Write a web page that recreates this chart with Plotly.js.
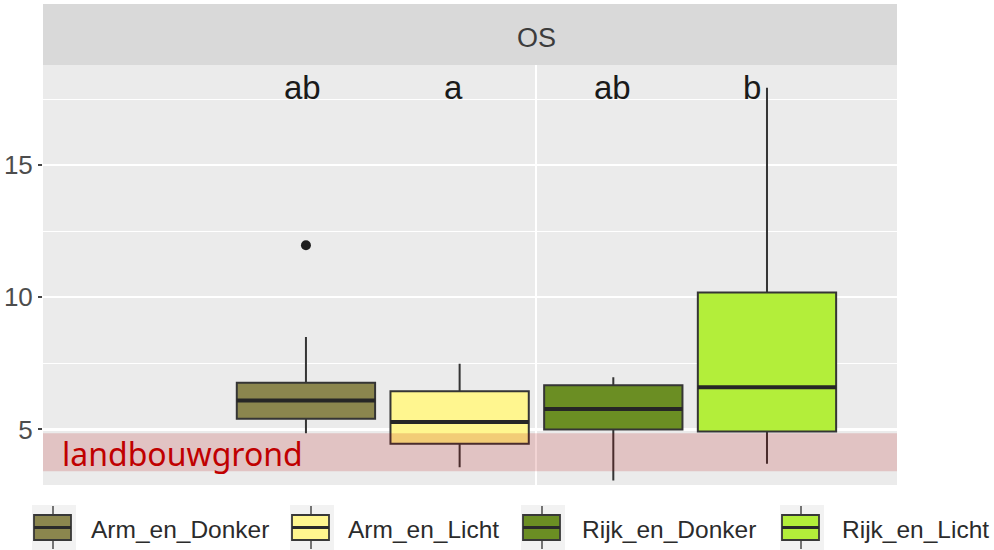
<!DOCTYPE html>
<html>
<head>
<meta charset="utf-8">
<script src="https://cdn.plot.ly/plotly-3.0.1.min.js"></script>
<style>
  html, body { margin: 0; padding: 0; background: #ffffff; }
  #chart { width: 994px; height: 550px; }
</style>
</head>
<body>
<div id="chart"></div>
<script>
// Groups and their box-plot summaries (OS)
const categories = ['Arm_en_Donker', 'Arm_en_Licht', 'Rijk_en_Donker', 'Rijk_en_Licht'];
const positions = [1, 2, 3, 4];
const lowerWhisker = [4.86, 3.57, 3.07, 3.70];
const q1 = [5.41, 4.46, 5.00, 4.92];
const median = [6.10, 5.28, 5.78, 6.60];
const q3 = [6.77, 6.45, 6.67, 10.18];
const upperWhisker = [8.50, 7.49, 6.98, 17.93];

// Points outside the whiskers
const outlierGroup = ['Arm_en_Donker'];
const outlierValue = [11.97];

// Significance letters per group
const letters = ['ab', 'a', 'ab', 'b'];
const letterShift = [-3, -6, -1, -15];

// Reference range for agricultural soil
const bandRange = [3.42, 4.86];
const bandLabel = 'landbouwgrond';

// Axis ticks
const yTicks = [5, 10, 15];
const yMinor = [7.5, 12.5, 17.5];

const fills = ['#8B864E', '#FFF68F', '#6B8E23', '#B3EE3A'];
const sans = '"Liberation Sans", Arial, sans-serif';

// Plot area in pixels (for placing the strip and the legend keys)
const M = { l: 43, r: 97, t: 65, b: 65 };
const W = 994, H = 550;
const PW = W - M.l - M.r, PH = H - M.t - M.b;
const px = x => (x - M.l) / PW;
const py = y => (H - M.b - y) / PH;

const traces = [];
categories.forEach((c, i) => {
  traces.push({
    type: 'box',
    name: c,
    x: [positions[i]],
    q1: [q1[i]],
    median: [median[i]],
    q3: [q3[i]],
    lowerfence: [lowerWhisker[i]],
    upperfence: [upperWhisker[i]],
    width: 0.9,
    fillcolor: fills[i],
    line: { color: '#353535', width: 2 },
    whiskerwidth: 0,
    boxpoints: false,
    showlegend: false,
    hoverinfo: 'skip'
  });
  // thicker median bar
  traces.push({
    type: 'scatter',
    mode: 'lines',
    x: [positions[i] - 0.45, positions[i] + 0.45],
    y: [median[i], median[i]],
    line: { color: '#262626', width: 4 },
    showlegend: false,
    hoverinfo: 'skip'
  });
});

traces.push({
  type: 'scatter',
  mode: 'markers',
  x: outlierGroup.map(g => positions[categories.indexOf(g)]),
  y: outlierValue,
  marker: { color: '#1f1f1f', size: 10 },
  showlegend: false,
  hoverinfo: 'skip'
});

const shapes = [];
const annotations = [];

// facet strip
shapes.push({
  type: 'rect', xref: 'paper', yref: 'paper',
  x0: 0, x1: 1, y0: 1, y1: py(4),
  fillcolor: '#d9d9d9', line: { width: 0 }, layer: 'below'
});
annotations.push({
  xref: 'x', yref: 'paper',
  x: positions.reduce((a, b) => a + b, 0) / positions.length,
  y: py(38), yanchor: 'middle', showarrow: false,
  text: 'OS', font: { family: sans, size: 27, color: '#3c3c3c' }
});

// agricultural range band
shapes.push({
  type: 'rect', xref: 'paper', yref: 'y',
  x0: 0, x1: 1, y0: bandRange[0], y1: bandRange[1],
  fillcolor: 'rgba(180,0,0,0.17)', line: { width: 0 }, layer: 'above'
});
annotations.push({
  xref: 'paper', yref: 'y',
  x: px(60), xanchor: 'left',
  y: (bandRange[0] + bandRange[1]) / 2 - 0.04, yanchor: 'middle',
  showarrow: false, text: bandLabel,
  font: { family: '"Noto Sans", "Open Sans", sans-serif', size: 32, color: '#c00000' }
});

// letters above the boxes
letters.forEach((t, i) => {
  annotations.push({
    xref: 'x', yref: 'y', x: positions[i], y: 17.95, yanchor: 'middle',
    xshift: letterShift[i], showarrow: false, text: t,
    font: { family: sans, size: 33, color: '#1a1a1a' }
  });
});

// legend keys along the bottom
const keyX = [32, 290, 521, 780];
const textX = [89, 346, 580, 840];
categories.forEach((c, i) => {
  const k = keyX[i];
  shapes.push({ type: 'rect', xref: 'paper', yref: 'paper',
    x0: px(k), x1: px(k + 44), y0: py(550), y1: py(505),
    fillcolor: '#f2f2f2', line: { width: 0 } });
  shapes.push({ type: 'line', xref: 'paper', yref: 'paper',
    x0: px(k + 21), x1: px(k + 21), y0: py(506), y1: py(549),
    line: { color: '#4a4a4a', width: 1.5 } });
  shapes.push({ type: 'rect', xref: 'paper', yref: 'paper',
    x0: px(k + 2), x1: px(k + 39), y0: py(540), y1: py(515),
    fillcolor: fills[i], line: { color: '#383838', width: 1.8 } });
  shapes.push({ type: 'line', xref: 'paper', yref: 'paper',
    x0: px(k + 2), x1: px(k + 39), y0: py(527.5), y1: py(527.5),
    line: { color: '#2a2a2a', width: 3 } });
  annotations.push({
    xref: 'paper', yref: 'paper', x: px(textX[i]), xanchor: 'left',
    y: py(529.5), yanchor: 'middle', showarrow: false, text: c,
    font: { family: sans, size: 24.5, color: '#2b2b2b' }
  });
});

const layout = {
  width: W, height: H,
  margin: M,
  paper_bgcolor: '#ffffff',
  plot_bgcolor: '#ebebeb',
  showlegend: false,
  boxmode: 'overlay',
  xaxis: {
    range: [-0.711, 4.846],
    tickvals: [positions.reduce((a, b) => a + b, 0) / positions.length],
    showticklabels: false, ticks: '',
    showgrid: true, gridcolor: '#ffffff', gridwidth: 2,
    zeroline: false, showline: false, fixedrange: true
  },
  yaxis: {
    range: [2.90, 18.79],
    tickvals: yTicks,
    ticks: 'outside', ticklen: 4, tickwidth: 2, tickcolor: '#444444',
    ticklabelstandoff: 0,
    tickfont: { family: sans, size: 26, color: '#4d4d4d' },
    showgrid: true, gridcolor: '#ffffff', gridwidth: 2.2,
    minor: { tickvals: yMinor, showgrid: true, gridcolor: '#ffffff', gridwidth: 1.2, ticklen: 0 },
    zeroline: false, showline: false, fixedrange: true
  },
  shapes: shapes,
  annotations: annotations
};

Plotly.newPlot('chart', traces, layout, { staticPlot: true, displayModeBar: false });
</script>
</body>
</html>
